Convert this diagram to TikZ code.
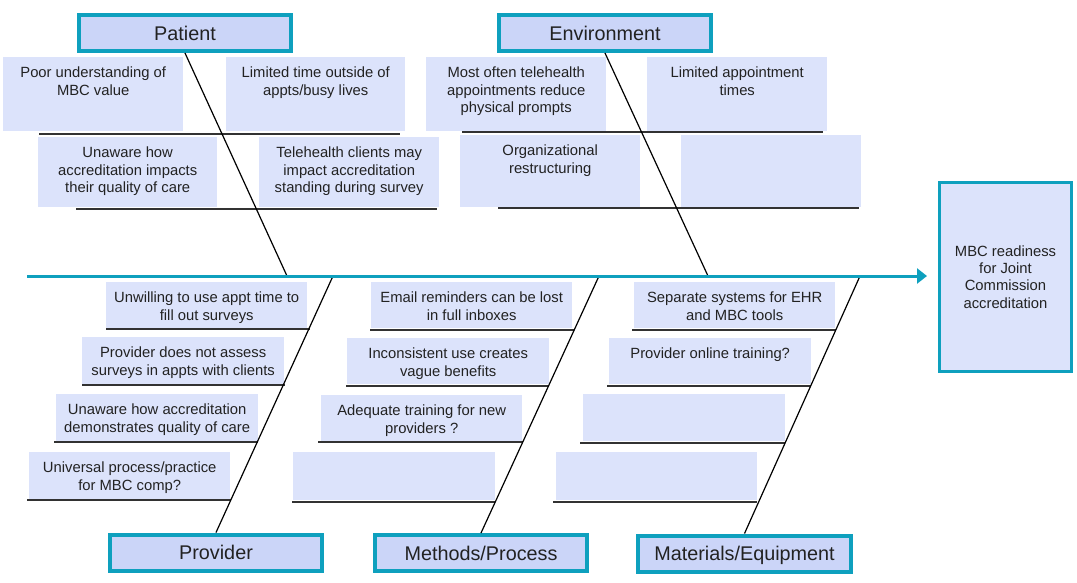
\documentclass[tikz,border=0pt]{standalone}
\usepackage{fontspec}
\setmainfont{Liberation Sans}
\usetikzlibrary{arrows.meta}
\definecolor{fishteal}{RGB}{14,160,190}
\definecolor{itemfill}{RGB}{220,227,251}
\definecolor{headfill}{RGB}{203,213,248}
\definecolor{inkgray}{RGB}{34,34,34}
\definecolor{rulegray}{RGB}{50,50,50}
\tikzset{
  headbox/.style={draw=fishteal, line width=4pt, fill=headfill, minimum width=212pt,
    minimum height=36pt, inner sep=0pt, text height=14.2pt, text depth=0pt,
    font=\fontsize{19.8}{22}\selectfont, text=inkgray},
  itembox/.style={fill=itemfill, draw=none, anchor=north west, inner sep=0pt},
  itemtext/.style={anchor=north, inner sep=0pt, align=center,
    font=\fontsize{14.8}{17.3}\selectfont, text=inkgray},
  underline/.style={draw=rulegray, line width=1.5pt},
  bone/.style={draw=black, line width=1.2pt},
}
\newcommand{\cause}[6]{% name, x, y, width, height, text
  \node[itembox, minimum width=#4pt, minimum height=#5pt] (#1) at (#2,#3) {};
  \node[itemtext] (#1t) at ([yshift=-10pt]#1.north) {#6};
}
\begin{document}
\begin{tikzpicture}[x=1pt,y=-1pt]
\useasboundingbox (0,0) rectangle (1077,582);

% ---- category heads
\node[headbox] (patient) at (185,33) {Patient};
\node[headbox] (environment) at (605,33) {Environment};
\node[headbox] (provider) at (216,552.5) {Provider};
\node[headbox] (methods) at (481,553) {Methods/Process};
\node[headbox, minimum width=213pt] (materials) at (744.5,553.5) {Materials/Equipment};

% ---- effect
\node[draw=fishteal, line width=3pt, fill=itemfill, minimum width=132pt, minimum height=189pt,
  inner sep=0pt, align=center, font=\fontsize{14.8}{17.3}\selectfont, text=inkgray]
  (effect) at (1005.5,277) {MBC readiness\\for Joint\\Commission\\accreditation};

% ---- Patient causes
\cause{p1}{3}{57}{180}{74}{Poor understanding of\\MBC value}
\cause{p2}{226}{57}{179}{74}{Limited time outside of\\appts/busy lives}
\cause{p3}{38}{137}{179}{70}{Unaware how\\accreditation impacts\\their quality of care}
\cause{p4}{259}{137}{180}{70}{Telehealth clients may\\impact accreditation\\standing during survey}
\draw[underline] (39,134) -- (400,134);
\draw[underline] (76,209) -- (437,209);

% ---- Environment causes
\cause{e1}{426}{57}{180}{74}{Most often telehealth\\appointments reduce\\physical prompts}
\cause{e2}{647}{57}{180}{74}{Limited appointment\\times}
\cause{e3}{460}{135}{180}{72}{Organizational\\restructuring}
\cause{e4}{681}{135}{180}{72}{}
\draw[underline] (462,132) -- (823,132);
\draw[underline] (498,208) -- (859,208);

% ---- Provider causes
\cause{v1}{106}{282}{201}{46}{Unwilling to use appt time to\\fill out surveys}
\cause{v2}{82}{337}{202}{47}{Provider does not assess\\surveys in appts with clients}
\cause{v3}{56}{394}{202}{47}{Unaware how accreditation\\demonstrates quality of care}
\cause{v4}{29}{452}{201}{47}{Universal process/practice\\for MBC comp?}
\draw[underline] (106,329) -- (310,329);
\draw[underline] (82,385) -- (285,385);
\draw[underline] (54,442) -- (258,442);
\draw[underline] (27,500) -- (231,500);

% ---- Methods/Process causes
\cause{m1}{371}{282}{201}{46}{Email reminders can be lost\\in full inboxes}
\cause{m2}{347}{338}{202}{46}{Inconsistent use creates\\vague benefits}
\cause{m3}{321}{395}{201}{46}{Adequate training for new\\providers ?}
\cause{m4}{293}{452}{202}{48}{}
\draw[underline] (370,330) -- (574,330);
\draw[underline] (346,386) -- (549,386);
\draw[underline] (318,442) -- (523,442);
\draw[underline] (292,502) -- (495,502);

% ---- Materials/Equipment causes
\cause{t1}{634}{282}{201}{46}{Separate systems for EHR\\and MBC tools}
\cause{t2}{609}{338}{202}{46}{Provider online training?}
\cause{t3}{583}{394}{202}{47}{}
\cause{t4}{556}{452}{201}{48}{}
\draw[underline] (632,330) -- (836,330);
\draw[underline] (607,386) -- (811,386);
\draw[underline] (580,443) -- (785,443);
\draw[underline] (553,502) -- (757,502);

% ---- spine
\coordinate (tail) at (27,276);
\coordinate (head) at (927,276);
\coordinate (jP) at (287,276);
\coordinate (jE) at (708,276);
\coordinate (jV) at (333,276);
\coordinate (jM) at (599,276);
\coordinate (jT) at (860,276);

\draw[bone] (patient.south) -- (jP);
\draw[bone] (environment.south) -- (jE);
\draw[bone] (provider.north) -- (jV);
\draw[bone] (methods.north) -- (jM);
\draw[bone] (materials.north) -- (jT);

\draw[draw=fishteal, line width=3pt, -{Triangle[length=10pt,width=15pt]}] (tail) -- (head);
\end{tikzpicture}
\end{document}
